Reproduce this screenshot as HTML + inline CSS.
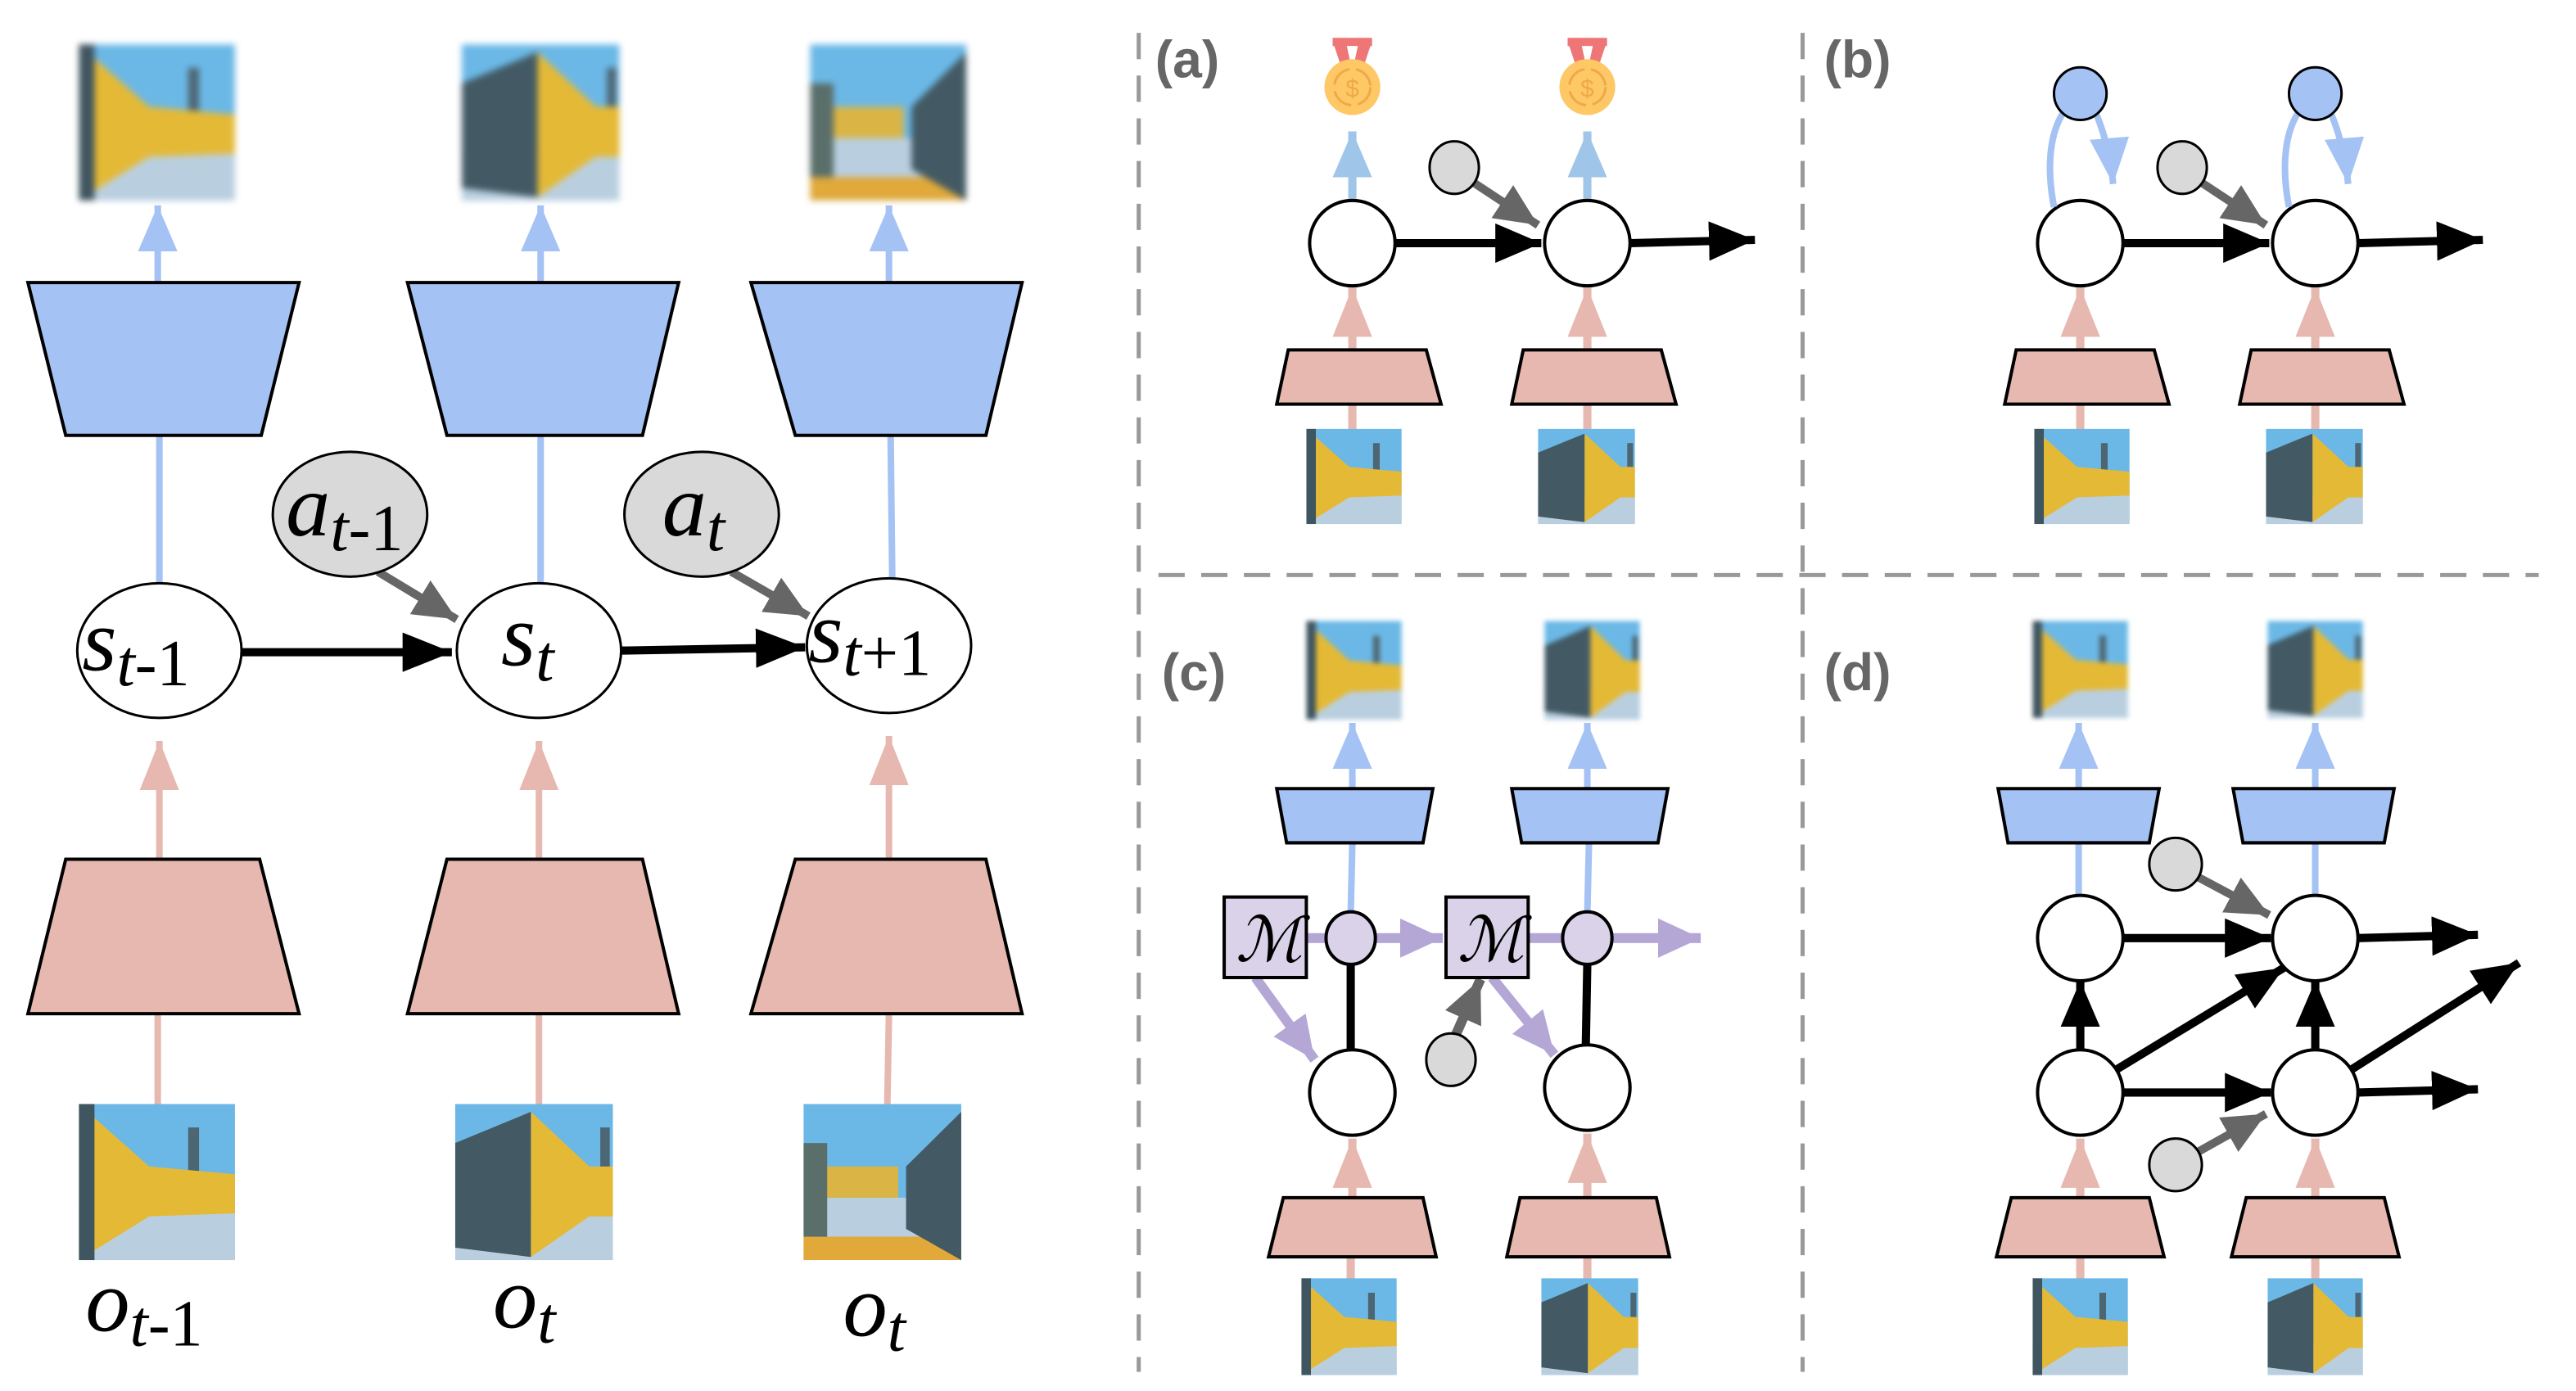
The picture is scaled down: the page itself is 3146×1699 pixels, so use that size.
<!DOCTYPE html>
<html><head><meta charset="utf-8"><style>
html,body{margin:0;padding:0;background:#fff;}
svg{display:block;}
text{font-family:"Liberation Serif",serif;font-style:italic;}
.lab{font-family:"Liberation Sans",sans-serif;font-style:normal;font-weight:bold;fill:#666;font-size:32px;}
</style></head><body>
<svg width="3146" height="1699" viewBox="0 0 1552 838.2" preserveAspectRatio="none" xmlns="http://www.w3.org/2000/svg">
<defs>
<marker id="mk" markerUnits="userSpaceOnUse" markerWidth="32" markerHeight="24" refX="30" refY="12" orient="auto"><path d="M0,0 L30,12 L0,24 z" fill="#000"/></marker>
<marker id="mks" markerUnits="userSpaceOnUse" markerWidth="30" markerHeight="24" refX="28" refY="12" orient="auto"><path d="M0,0 L28,12 L0,24 z" fill="#000"/></marker>
<marker id="mg" markerUnits="userSpaceOnUse" markerWidth="28" markerHeight="24" refX="26" refY="12" orient="auto"><path d="M0,0 L26,12 L0,24 z" fill="#666"/></marker>
<marker id="mb" markerUnits="userSpaceOnUse" markerWidth="30" markerHeight="24" refX="28" refY="12" orient="auto"><path d="M0,0 L28,12 L0,24 z" fill="#a4c2f4"/></marker>
<marker id="mb2" markerUnits="userSpaceOnUse" markerWidth="30" markerHeight="24" refX="28" refY="12" orient="auto"><path d="M0,0 L28,12 L0,24 z" fill="#9fc5e8"/></marker>
<marker id="mp" markerUnits="userSpaceOnUse" markerWidth="32" markerHeight="24" refX="30" refY="12" orient="auto"><path d="M0,0 L30,12 L0,24 z" fill="#e6b8af"/></marker>
<marker id="mv" markerUnits="userSpaceOnUse" markerWidth="28" markerHeight="24" refX="26" refY="12" orient="auto"><path d="M0,0 L26,12 L0,24 z" fill="#b4a7d6"/></marker>
<symbol id="iA" viewBox="0 0 100 100" preserveAspectRatio="none">
<rect width="100" height="100" fill="#6bb8e6"/><rect y="65" width="100" height="35" fill="#b9cfe0"/>
<rect x="70" y="15" width="7" height="40" fill="#4d6673"/>
<path d="M0,0 L45,40 L100,45 L100,70 L45,72 L0,100 z" fill="#e4b936"/>
<rect width="10" height="100" fill="#3f5560"/></symbol>
<symbol id="iB" viewBox="0 0 100 100" preserveAspectRatio="none">
<rect width="100" height="100" fill="#6bb8e6"/><rect y="68" width="100" height="32" fill="#b9cfe0"/>
<rect x="92" y="15" width="6" height="40" fill="#4d6673"/>
<path d="M48,5 L85,40 L100,40 L100,72 L85,72 L48,98 z" fill="#e4b936"/>
<path d="M0,25 L48,5 L48,98 L0,92 z" fill="#435a64"/></symbol>
<symbol id="iC" viewBox="0 0 100 100" preserveAspectRatio="none">
<rect width="100" height="100" fill="#6bb8e6"/><rect y="60" width="100" height="25" fill="#b9cfe0"/><rect y="85" width="100" height="15" fill="#e0a93a"/>
<rect x="10" y="40" width="50" height="20" fill="#dab545"/>
<rect x="0" y="25" width="15" height="60" fill="#5a6e6a"/>
<path d="M65,40 L100,5 L100,100 L65,80 z" fill="#435a64"/></symbol>
<symbol id="medal" viewBox="0 0 40 50">
<path d="M8,2 L16,2 L19,16 L14,20 z M32,2 L24,2 L21,16 L26,20 z" fill="#ef7676"/><rect x="8" y="0" width="24" height="5" fill="#ef7676"/>
<circle cx="20" cy="30" r="17" fill="#fdc865"/><circle cx="20" cy="30" r="11" fill="none" stroke="#f0a94a" stroke-width="1.5" stroke-dasharray="14 4"/>
<text x="20" y="36" font-size="15" text-anchor="middle" fill="#f0a94a" style="font-family:'Liberation Sans',sans-serif;font-style:normal">$</text></symbol>
</defs>
<g transform="scale(0.99)">

<!-- LEFT PANEL -->
<g stroke-width="4" fill="none">
<line x1="96" y1="172" x2="96" y2="125" stroke="#a4c2f4" marker-end="url(#mb)"/>
<line x1="329" y1="172" x2="329" y2="125" stroke="#a4c2f4" marker-end="url(#mb)"/>
<line x1="541" y1="172" x2="541" y2="125" stroke="#a4c2f4" marker-end="url(#mb)"/>
<line x1="97" y1="265" x2="97" y2="355" stroke="#a4c2f4"/>
<line x1="329" y1="265" x2="329" y2="355" stroke="#a4c2f4"/>
<line x1="542" y1="265" x2="543" y2="352" stroke="#a4c2f4"/>
<line x1="97" y1="523" x2="97" y2="451" stroke="#e6b8af" marker-end="url(#mp)"/>
<line x1="328" y1="523" x2="328" y2="451" stroke="#e6b8af" marker-end="url(#mp)"/>
<line x1="541" y1="523" x2="541" y2="448" stroke="#e6b8af" marker-end="url(#mp)"/>
<line x1="96" y1="617" x2="96" y2="672" stroke="#e6b8af"/>
<line x1="328" y1="617" x2="328" y2="672" stroke="#e6b8af"/>
<line x1="541" y1="617" x2="540" y2="672" stroke="#e6b8af"/>
</g>
<g stroke="#000" stroke-width="2">
<polygon points="17,172 182,172 159,265 40,265" fill="#a4c2f4"/>
<polygon points="248,172 413,172 391,265 272,265" fill="#a4c2f4"/>
<polygon points="457,172 622,172 600,265 484,265" fill="#a4c2f4"/>
<polygon points="40,523 158,523 182,617 17,617" fill="#e6b8af"/>
<polygon points="272,523 391,523 413,617 248,617" fill="#e6b8af"/>
<polygon points="484,523 600,523 622,617 457,617" fill="#e6b8af"/>
</g>
<use href="#iA" x="48" y="27" width="95" height="95" style="filter:blur(2px)"/>
<use href="#iB" x="281" y="27" width="96" height="95" style="filter:blur(2px)"/>
<use href="#iC" x="493" y="27" width="95" height="95" style="filter:blur(2px)"/>
<use href="#iA" x="48" y="672" width="95" height="95"/>
<use href="#iB" x="277" y="672" width="96" height="95"/>
<use href="#iC" x="489" y="672" width="96" height="95"/>
<line x1="147" y1="397" x2="275" y2="397" stroke="#000" stroke-width="5" marker-end="url(#mk)"/>
<line x1="378" y1="396" x2="490" y2="394" stroke="#000" stroke-width="5" marker-end="url(#mk)"/>
<line x1="230" y1="348" x2="278" y2="377" stroke="#666" stroke-width="5" marker-end="url(#mg)"/>
<line x1="445" y1="348" x2="492" y2="375" stroke="#666" stroke-width="5" marker-end="url(#mg)"/>
<g stroke="#000" stroke-width="1.5">
<ellipse cx="213" cy="313" rx="47" ry="38" fill="#d9d9d9"/>
<ellipse cx="427" cy="313" rx="47" ry="38" fill="#d9d9d9"/>
<ellipse cx="97" cy="396" rx="50" ry="41" fill="#fff"/>
<ellipse cx="328" cy="396" rx="50" ry="41" fill="#fff"/>
<ellipse cx="541" cy="393" rx="50" ry="41" fill="#fff"/>
</g>
<g font-size="54" fill="#000">
<text x="50" y="408">s<tspan font-size="40" dy="9">t</tspan><tspan font-size="40" style="font-style:normal">-1</tspan></text>
<text x="305" y="405">s<tspan font-size="40" dy="9">t</tspan></text>
<text x="492" y="403">s<tspan font-size="40" dy="8">t</tspan><tspan font-size="40" style="font-style:normal">+1</tspan></text>
<text x="174" y="326">a<tspan font-size="40" dy="9">t</tspan><tspan font-size="40" style="font-style:normal">-1</tspan></text>
<text x="403" y="326">a<tspan font-size="40" dy="9">t</tspan></text>
<text x="52" y="810">o<tspan font-size="40" dy="9">t</tspan><tspan font-size="40" style="font-style:normal">-1</tspan></text>
<text x="300" y="808">o<tspan font-size="40" dy="9">t</tspan></text>
<text x="513" y="813">o<tspan font-size="40" dy="9">t</tspan></text>
</g>

<!-- dashed dividers -->
<g stroke="#999" stroke-width="2.5" stroke-dasharray="16 10">
<line x1="693" y1="20" x2="693" y2="835"/>
<line x1="1097" y1="20" x2="1097" y2="835"/>
<line x1="705" y1="350" x2="1545" y2="350"/>
</g>
<text class="lab" x="703" y="47">(a)</text>
<text class="lab" x="1110" y="47">(b)</text>
<text class="lab" x="707" y="420">(c)</text>
<text class="lab" x="1110" y="420">(d)</text>

<!-- PANEL A & B -->
<line x1="823" y1="121" x2="823" y2="80" stroke="#9fc5e8" stroke-width="5" marker-end="url(#mb2)"/>
<line x1="966" y1="121" x2="966" y2="80" stroke="#9fc5e8" stroke-width="5" marker-end="url(#mb2)"/>
<use href="#medal" x="803" y="23" width="40" height="50"/>
<use href="#medal" x="946" y="23" width="40" height="50"/>
<g id="chainAB">
<line x1="823" y1="213" x2="823" y2="175" stroke="#e6b8af" stroke-width="5" marker-end="url(#mp)"/>
<line x1="966" y1="213" x2="966" y2="175" stroke="#e6b8af" stroke-width="5" marker-end="url(#mp)"/>
<line x1="823" y1="246" x2="823" y2="262" stroke="#e6b8af" stroke-width="5"/>
<line x1="966" y1="246" x2="966" y2="262" stroke="#e6b8af" stroke-width="5"/>
<line x1="849" y1="148" x2="938" y2="148" stroke="#000" stroke-width="5" marker-end="url(#mks)"/>
<line x1="992" y1="148" x2="1068" y2="146" stroke="#000" stroke-width="5" marker-end="url(#mks)"/>
<line x1="895" y1="110" x2="936" y2="137" stroke="#666" stroke-width="5" marker-end="url(#mg)"/>
<g stroke="#000" stroke-width="2">
<polygon points="784,213 868,213 877,246 777,246" fill="#e6b8af"/>
<polygon points="927,213 1011,213 1020,246 920,246" fill="#e6b8af"/>
<circle cx="823" cy="148" r="26" fill="#fff"/>
<circle cx="966" cy="148" r="26" fill="#fff"/>
<ellipse cx="885" cy="102" rx="15" ry="16" fill="#d9d9d9" stroke-width="1.5"/>
</g>
<use href="#iA" x="795" y="261" width="58" height="58"/>
<use href="#iB" x="936" y="261" width="59" height="58"/>
</g>
<use href="#chainAB" transform="translate(443,0)"/>
<g fill="none" stroke="#a4c2f4" stroke-width="4">
<path d="M1250,126 C1245,100 1248,80 1256,68"/>
<path d="M1276,70 C1282,85 1285,100 1286,112" marker-end="url(#mb)"/>
<path d="M1393,126 C1388,100 1391,80 1399,68"/>
<path d="M1419,70 C1425,85 1428,100 1429,112" marker-end="url(#mb)"/>
</g>
<circle cx="1266" cy="57" r="16" fill="#a4c2f4" stroke="#000" stroke-width="1.5"/>
<circle cx="1409" cy="57" r="16" fill="#a4c2f4" stroke="#000" stroke-width="1.5"/>

<!-- PANEL C -->
<g stroke-width="4" fill="none">
<line x1="823" y1="480" x2="823" y2="440" stroke="#a4c2f4" marker-end="url(#mb)"/>
<line x1="966" y1="480" x2="966" y2="440" stroke="#a4c2f4" marker-end="url(#mb)"/>
<line x1="823" y1="513" x2="822" y2="556" stroke="#a4c2f4"/>
<line x1="967" y1="513" x2="966" y2="556" stroke="#a4c2f4"/>
<line x1="822" y1="765" x2="822" y2="780" stroke="#e6b8af" stroke-width="5"/>
<line x1="966" y1="765" x2="966" y2="780" stroke="#e6b8af" stroke-width="5"/>
<line x1="795" y1="571" x2="878" y2="571" stroke="#b4a7d6" stroke-width="6" marker-end="url(#mv)"/>
<line x1="930" y1="571" x2="1035" y2="571" stroke="#b4a7d6" stroke-width="6" marker-end="url(#mv)"/>
<line x1="764" y1="595" x2="800" y2="645" stroke="#b4a7d6" stroke-width="6" marker-end="url(#mv)"/>
<line x1="908" y1="595" x2="946" y2="642" stroke="#b4a7d6" stroke-width="6" marker-end="url(#mv)"/>
<line x1="885" y1="632" x2="901" y2="596" stroke="#666" stroke-width="6" marker-end="url(#mg)"/>
<line x1="822" y1="586" x2="822" y2="640" stroke="#000" stroke-width="5"/>
<line x1="966" y1="586" x2="965" y2="640" stroke="#000" stroke-width="5"/>
</g>
<line x1="823" y1="729" x2="823" y2="693" stroke="#e6b8af" stroke-width="5" marker-end="url(#mp)"/>
<line x1="966" y1="729" x2="966" y2="690" stroke="#e6b8af" stroke-width="5" marker-end="url(#mp)"/>
<g stroke="#000" stroke-width="2">
<polygon points="777,480 872,480 866,513 783,513" fill="#a4c2f4"/>
<polygon points="920,480 1015,480 1009,513 926,513" fill="#a4c2f4"/>
<polygon points="781,729 866,729 874,765 772,765" fill="#e6b8af"/>
<polygon points="925,729 1008,729 1016,765 917,765" fill="#e6b8af"/>
<rect x="745" y="546" width="50" height="49" fill="#d9d2e9"/>
<rect x="880" y="546" width="50" height="49" fill="#d9d2e9"/>
<ellipse cx="822" cy="571" rx="15" ry="16" fill="#d9d2e9"/>
<ellipse cx="966" cy="571" rx="15" ry="16" fill="#d9d2e9"/>
<circle cx="823" cy="665" r="26" fill="#fff"/>
<circle cx="966" cy="662" r="26" fill="#fff"/>
<ellipse cx="883" cy="645" rx="15" ry="16" fill="#d9d9d9" stroke-width="1.5"/>
</g>
<text x="752" y="585" font-size="38" fill="#000" style="font-family:'Liberation Serif',serif">ℳ</text>
<text x="887" y="585" font-size="38" fill="#000" style="font-family:'Liberation Serif',serif">ℳ</text>
<use href="#iA" x="795" y="378" width="58" height="60" style="filter:blur(1.5px)"/>
<use href="#iB" x="940" y="378" width="58" height="60" style="filter:blur(1.5px)"/>
<use href="#iA" x="792" y="778" width="58" height="59"/>
<use href="#iB" x="938" y="778" width="59" height="59"/>

<!-- PANEL D -->
<g stroke-width="4" fill="none">
<line x1="1265" y1="480" x2="1265" y2="440" stroke="#a4c2f4" marker-end="url(#mb)"/>
<line x1="1409" y1="480" x2="1409" y2="440" stroke="#a4c2f4" marker-end="url(#mb)"/>
<line x1="1265" y1="513" x2="1265" y2="545" stroke="#a4c2f4"/>
<line x1="1409" y1="513" x2="1409" y2="545" stroke="#a4c2f4"/>
<line x1="1266" y1="729" x2="1266" y2="693" stroke="#e6b8af" stroke-width="5" marker-end="url(#mp)"/>
<line x1="1409" y1="729" x2="1409" y2="693" stroke="#e6b8af" stroke-width="5" marker-end="url(#mp)"/>
<line x1="1266" y1="765" x2="1266" y2="780" stroke="#e6b8af" stroke-width="5"/>
<line x1="1409" y1="765" x2="1409" y2="780" stroke="#e6b8af" stroke-width="5"/>
</g>
<g stroke="#000" stroke-width="5">
<line x1="1292" y1="571" x2="1382" y2="571" marker-end="url(#mks)"/>
<line x1="1435" y1="571" x2="1508" y2="569" marker-end="url(#mks)"/>
<line x1="1292" y1="665" x2="1382" y2="665" marker-end="url(#mks)"/>
<line x1="1435" y1="665" x2="1508" y2="663" marker-end="url(#mks)"/>
<line x1="1266" y1="639" x2="1266" y2="597" marker-end="url(#mks)"/>
<line x1="1409" y1="639" x2="1409" y2="597" marker-end="url(#mks)"/>
<line x1="1288" y1="651" x2="1390" y2="589" marker-end="url(#mks)"/>
<line x1="1431" y1="651" x2="1533" y2="586" marker-end="url(#mks)"/>
</g>
<line x1="1336" y1="533" x2="1381" y2="557" stroke="#666" stroke-width="5" marker-end="url(#mg)"/>
<line x1="1336" y1="702" x2="1379" y2="678" stroke="#666" stroke-width="5" marker-end="url(#mg)"/>
<g stroke="#000" stroke-width="2">
<polygon points="1216,480 1314,480 1308,513 1222,513" fill="#a4c2f4"/>
<polygon points="1359,480 1457,480 1451,513 1365,513" fill="#a4c2f4"/>
<polygon points="1224,729 1308,729 1317,765 1215,765" fill="#e6b8af"/>
<polygon points="1367,729 1451,729 1460,765 1358,765" fill="#e6b8af"/>
<circle cx="1266" cy="571" r="26" fill="#fff"/>
<circle cx="1409" cy="571" r="26" fill="#fff"/>
<circle cx="1266" cy="665" r="26" fill="#fff"/>
<circle cx="1409" cy="665" r="26" fill="#fff"/>
<ellipse cx="1324" cy="526" rx="16" ry="16" fill="#d9d9d9" stroke-width="1.5"/>
<ellipse cx="1324" cy="709" rx="16" ry="16" fill="#d9d9d9" stroke-width="1.5"/>
</g>
<use href="#iA" x="1237" y="378" width="58" height="59" style="filter:blur(1.5px)"/>
<use href="#iB" x="1380" y="378" width="58" height="59" style="filter:blur(1.5px)"/>
<use href="#iA" x="1237" y="778" width="58" height="59"/>
<use href="#iB" x="1380" y="778" width="58" height="59"/>
</g>
</svg>
</body></html>
